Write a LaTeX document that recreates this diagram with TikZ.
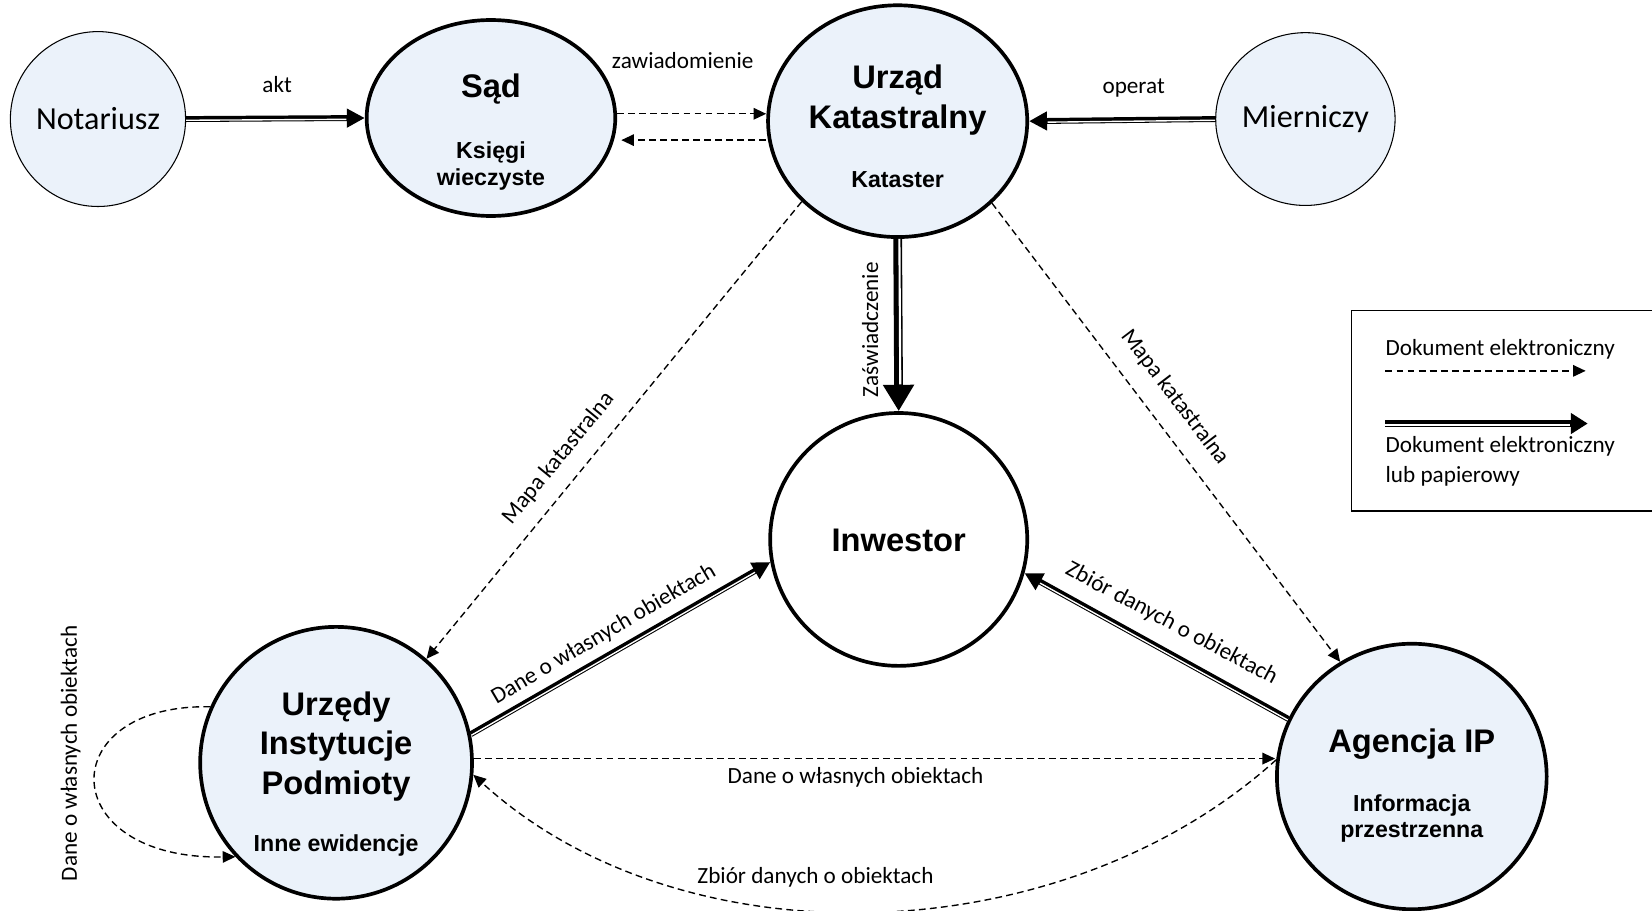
\documentclass[tikz,border=0pt]{standalone}
\usepackage{fontspec}
\setmainfont{Carlito}
\newfontfamily\hdfont{Liberation Sans}
\usetikzlibrary{shapes.geometric,arrows.meta,calc}
\definecolor{cfill}{RGB}{235,242,250}
% #1 black style, #2 gap style, #3 start, #4 end, #5 angle at start, #6 angle at end, #7 offset
\newcommand\dblconn[7]{%
  \draw[#1] (#3) -- (#4);
  \draw[#2] ($(#3)!#7!#5:(#4)$) -- ($(#4)!#7!#6:(#3)$);
}
\begin{document}
\begin{tikzpicture}[x=1pt,y=-1pt,
  thickent/.style={ellipse,draw,line width=3.5pt,fill=cfill,inner sep=0pt},
  thinent/.style={ellipse,draw,line width=1pt,fill=cfill,inner sep=0pt},
  ttl/.style={font=\hdfont\bfseries\fontsize{31}{36}\selectfont,inner sep=0pt,anchor=base},
  subt/.style={font=\hdfont\bfseries\fontsize{22}{26}\selectfont,inner sep=0pt,anchor=base},
  plainname/.style={font=\fontsize{30.5}{36}\selectfont},
  lbl/.style={font=\fontsize{22}{26}\selectfont,inner sep=0pt},
  dsh/.style={line width=1.3pt,dash pattern=on 6.5pt off 4pt,-{Triangle[length=12pt,width=11pt]}},
  dbl/.style={line width=5.6pt,-{Triangle[length=17pt,width=17pt]}},
  dblgap/.style={draw=white,line width=1.3pt,shorten >=17.5pt},
  dblbig/.style={line width=8.3pt,-{Triangle[length=25pt,width=28pt]}},
  dblbiggap/.style={draw=white,line width=2pt,shorten >=25.5pt},
  dblleg/.style={line width=6.5pt,-{Triangle[length=16pt,width=19pt]}},
  dbllegGap/.style={draw=white,line width=1.3pt,shorten >=16.5pt}]
\useasboundingbox (0,0) rectangle (1568,864);
% entities
\node[thinent,minimum width=164,minimum height=166,plainname] (notar) at (93,113) {Notariusz};
\node[thinent,minimum width=162,minimum height=164,plainname] (mier) at (1239,113) {Mierniczy};
\node[thickent,minimum width=236,minimum height=186] (sad) at (466,112) {};
\node[thickent,minimum width=246,minimum height=220] (urz) at (852,115) {};
\node[thickent,fill=white,minimum width=244,minimum height=240] (inw) at (853,512) {};
\node[thickent,minimum width=258,minimum height=258] (urzedy) at (319,724) {};
\node[thickent,minimum width=256,minimum height=252] (agencja) at (1340,737) {};
% texts inside
\node[ttl] (sadA) at (466,93) {Sąd};
\node[subt] (sadB) at (466,150) {Księgi};
\node[subt] (sadC) at (466,176) {wieczyste};
\node[ttl] (urzA) at (852,84) {Urząd};
\node[ttl] (urzB) at (852,122) {Katastralny};
\node[subt] (urzC) at (852,178) {Kataster};
\node[ttl] (inwA) at (853,523) {Inwestor};
\node[ttl] (urzedyA) at (319,679) {Urzędy};
\node[ttl] (urzedyB) at (319,716) {Instytucje};
\node[ttl] (urzedyC) at (319,754) {Podmioty};
\node[subt] (urzedyD) at (319,808) {Inne ewidencje};
\node[ttl] (agA) at (1340,714) {Agencja IP};
\node[subt] (agB) at (1340,770) {Informacja};
\node[subt] (agC) at (1340,795) {przestrzenna};
% connectors
\dblconn{dbl}{dblgap}{notar.east}{sad.west}{-90}{90}{1.15pt}
\draw[dsh] ([yshift=4pt]sad.east) -- ([yshift=7pt]urz.west);
\draw[dsh] ([yshift=-18pt]urz.west) -- ([yshift=-21pt,xshift=4pt]sad.east);
\dblconn{dbl}{dblgap}{mier.west}{urz.east}{90}{-90}{1.15pt}
\dblconn{dblbig}{dblbiggap}{urz.south}{inw.north}{90}{-90}{1.65pt}
\draw[dsh] (urz.220) -- (urzedy.49);
\draw[dsh] (urz.-41) -- (agencja.122);
\dblconn{dbl}{dblgap}{urzedy.12.8}{inw.190.8}{-90}{90}{1.15pt}
\dblconn{dbl}{dblgap}{agencja.155.7}{inw.-15.6}{90}{-90}{1.15pt}
\draw[dsh] ([yshift=4pt]urzedy.east) -- ([yshift=17pt]agencja.west);
\draw[dsh] (agencja.173) .. controls ($(agencja.173)+(-205,185)$) and ($(urzedy.-5)+(197,180)$) .. (urzedy.-5);
\draw[dsh] (urzedy.156.8) .. controls ($(urzedy.156.8)+(-150,-3)$) and ($(urzedy.-137.8)+(-172,3)$) .. (urzedy.-137.8);
% labels
\node[lbl] (lakt) at (263,80) {akt};
\node[lbl] (lzaw) at (648,57) {zawiadomienie};
\node[lbl] (lop) at (1076,84) {operat};
\node[lbl,rotate=90] (lzas) at (826,313) {Zaświadczenie};
\node[lbl,rotate=50.7] (lmap1) at (530,435) {Mapa katastralna};
\node[lbl,rotate=-52.7] (lmap2) at (1115,377) {Mapa katastralna};
\node[lbl,rotate=30.4] (ldane1) at (573,602) {Dane o własnych obiektach};
\node[lbl,rotate=-28] (lzb1) at (1112,592) {Zbiór danych o obiektach};
\node[lbl] (ldane2) at (812,738) {Dane o własnych obiektach};
\node[lbl] (lzb2) at (774,833) {Zbiór danych o obiektach};
\node[lbl,rotate=90] (lself) at (67,715) {Dane o własnych obiektach};
% legend
\node[draw,line width=1.2pt,minimum width=297,minimum height=190,inner sep=0pt] (legbox) at (1431.5,390) {};
\coordinate (la1) at (1315,352);
\coordinate (la2) at (1505,352);
\coordinate (lb1) at (1315,402);
\coordinate (lb2) at (1507,402);
\draw[dsh] (la1) -- (la2);
\dblconn{dblleg}{dbllegGap}{lb1}{lb2}{-90}{90}{1.3pt}
\node[lbl,anchor=west] (leg1) at (1315,332) {Dokument elektroniczny};
\node[lbl,anchor=west] (leg2) at (1315,424) {Dokument elektroniczny};
\node[lbl,anchor=west] (leg3) at (1315,452) {lub papierowy};
\end{tikzpicture}
\end{document}
